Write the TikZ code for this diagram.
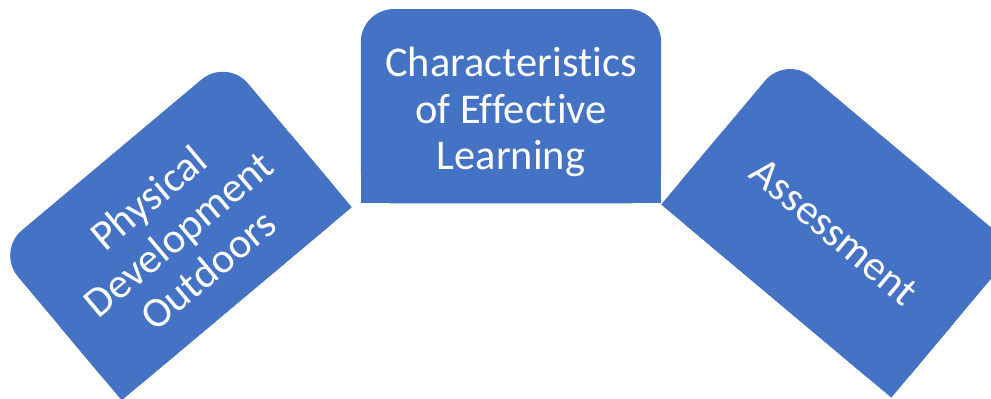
\documentclass[tikz,border=0pt]{standalone}
\usepackage{fontspec}
\setmainfont{Carlito}[Ligatures=CommonOff]
\usetikzlibrary{positioning,backgrounds}
\definecolor{tileblue}{HTML}{4472C4}
\newcommand\tilew{300pt}
\newcommand\tileh{194pt}
\newcommand\tiler{33pt}
\newcommand\gapx{9pt}
\newcommand\topstrut{\rule{0pt}{41pt}}
\newcommand\tilefill[1]{%
  \fill[tileblue, rounded corners=\tiler] (#1.south west) -- (#1.north west) -- (#1.north east) -- (#1.south east) -- cycle;
  \fill[tileblue] (#1.west) -- (#1.south west) -- (#1.south east) -- (#1.east) -- cycle;}
\tikzset{
  tile/.style={minimum width=\tilew, minimum height=\tileh, inner sep=0pt,
    text=white, align=center, font=\fontsize{42.4pt}{46.7pt}\selectfont}
}

\begin{document}
\begin{tikzpicture}
  \useasboundingbox (0,0) rectangle (991pt,399pt);
  % middle tile
  \node [tile] (char) at (511pt,292.7pt) {\topstrut Characteristics\\of Effective\\Learning};
  % tilted tiles
  \node [tile, rotate=40, anchor=south east] (phys) at ([xshift=-\gapx, yshift=-3.7pt]char.south west) {\topstrut Physical\\Development\\Outdoors};
  \node [tile, rotate=-40, anchor=south west] (assess) at ([yshift=-1pt]char.south east) {\topstrut Assessment};

  \begin{scope}[on background layer]
    \foreach \t in {char, phys, assess} {
      \tilefill{\t}
    }
  \end{scope}
\end{tikzpicture}
\end{document}
